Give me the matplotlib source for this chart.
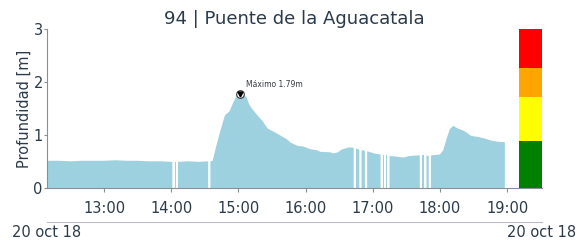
import numpy as np
import pandas as pd
import matplotlib
matplotlib.use("Agg")
import matplotlib.pyplot as plt
import matplotlib.dates as mdates

# ---------------- data ----------------
day = "2018-10-20"
times = ["12:09", "12:20", "12:30", "12:40", "12:50", "13:00", "13:10", "13:20", "13:30",
         "13:40", "13:50", "14:00", "14:01", "14:02", "14:03", "14:04", "14:05", "14:06",
         "14:15", "14:25", "14:33", "14:34", "14:35", "14:37", "14:40", "14:43", "14:48",
         "14:52", "14:55", "14:58", "15:01", "15:04", "15:07", "15:10", "15:13", "15:17",
         "15:22", "15:26", "15:34", "15:43", "15:47", "15:53", "15:58", "16:04", "16:10",
         "16:13", "16:22", "16:25", "16:29", "16:32", "16:38", "16:42", "16:43", "16:44",
         "16:45", "16:48", "16:49", "16:50", "16:53", "16:54", "16:55", "16:58", "17:03",
         "17:07", "17:08", "17:09", "17:10", "17:11", "17:12", "17:13", "17:14", "17:15",
         "17:21", "17:27", "17:33", "17:39", "17:42", "17:43", "17:44", "17:46", "17:47",
         "17:48", "17:50", "17:51", "17:52", "17:56", "18:00", "18:03", "18:06", "18:09",
         "18:12", "18:16", "18:22", "18:28", "18:34", "18:40", "18:46", "18:52", "18:58"]
depth = [0.52, 0.52, 0.51, 0.52, 0.52, 0.52, 0.53, 0.52, 0.52,
         0.51, 0.51, 0.50, 0.50, np.nan, 0.50, 0.50, np.nan, 0.50,
         0.51, 0.50, 0.51, np.nan, 0.51, 0.52, 0.78, 1.02, 1.38,
         1.45, 1.60, 1.73, 1.79, 1.76, 1.73, 1.57, 1.48, 1.38,
         1.26, 1.13, 1.04, 0.93, 0.86, 0.80, 0.79, 0.74, 0.72,
         0.69, 0.68, 0.66, 0.68, 0.73, 0.77, 0.77, 0.76, np.nan,
         0.75, 0.73, np.nan, 0.72, 0.71, np.nan, 0.70, 0.68, 0.65,
         0.64, np.nan, 0.63, 0.63, np.nan, 0.62, 0.62, np.nan, 0.61,
         0.60, 0.58, 0.61, 0.62, 0.62, np.nan, 0.62, 0.62, np.nan,
         0.62, 0.61, np.nan, 0.62, 0.63, 0.64, 0.72, 0.94, 1.12,
         1.18, 1.13, 1.08, 0.99, 0.97, 0.94, 0.90, 0.88, 0.87]

peak_time = "15:01"
peak_value = 1.79
peak_label = "Máximo 1.79m"

level_bounds = [0.0, 0.90, 1.72, 2.27, 3.0]
level_colors = ["#008000", "#FFFF00", "#FFA500", "#FF0000"]
level_bar_start = "19:11"
level_bar_end = "19:31"

x_start = "12:09"
hour_ticks = ["13:00", "14:00", "15:00", "16:00", "17:00", "18:00", "19:00"]
title = "94 | Puente de la Aguacatala"
ylabel = "Profundidad [m]"
date_label = "20 oct 18"

# ---------------- plot ----------------
def T(s):
    return pd.Timestamp(f"{day} {s}")

tx = mdates.date2num([T(s).to_pydatetime() for s in times])
y = np.array(depth, dtype=float)

text_c = "#2b3a4a"
spine_c = "#8a8f96"
fill_c = "#9dd1df"

fig = plt.figure(figsize=(5.87, 2.43), dpi=100)
ax = fig.add_axes([0.080, 0.225, 0.843, 0.654])

ax.fill_between(tx, 0, y, color=fill_c, linewidth=0, where=~np.isnan(y))

# level bar
b0 = mdates.date2num(T(level_bar_start).to_pydatetime())
b1 = mdates.date2num(T(level_bar_end).to_pydatetime())
for i, c in enumerate(level_colors):
    ax.bar(b0, level_bounds[i + 1] - level_bounds[i], bottom=level_bounds[i],
           width=b1 - b0, align="edge", color=c, linewidth=0)

# peak marker
px = mdates.date2num(T(peak_time).to_pydatetime())
ax.plot([px], [peak_value], marker="o", ms=5.5, mfc="white", mec="#333333", mew=0.8, zorder=5)
ax.plot([px], [peak_value], marker="v", ms=3.5, color="black", zorder=6)
ax.annotate(peak_label, (px, peak_value), xytext=(5, 3), textcoords="offset points",
            fontsize=5.5, color="#333a40", va="bottom", ha="left")

ax.set_xlim(mdates.date2num(T(x_start).to_pydatetime()), b1)
ax.set_ylim(0, 3)
ax.set_yticks([0, 1, 2, 3])
ax.set_xticks(mdates.date2num([T(s).to_pydatetime() for s in hour_ticks]))
ax.xaxis.set_major_formatter(mdates.DateFormatter("%H:%M"))

for s in ["top", "right"]:
    ax.spines[s].set_visible(False)
for s in ["left", "bottom"]:
    ax.spines[s].set_color(spine_c)
    ax.spines[s].set_linewidth(0.8)
ax.tick_params(axis="x", colors=spine_c, labelcolor=text_c, labelsize=10.5, length=3, pad=6)
ax.tick_params(axis="y", colors=spine_c, labelcolor=text_c, labelsize=10.5, length=2, pad=1)
ax.set_ylabel(ylabel, fontsize=10.5, color=text_c, labelpad=1)
ax.set_title(title, fontsize=13, color=text_c, pad=4)

# date axis below
ax2 = fig.add_axes([0.080, 0.086, 0.843, 0.001])
ax2.set_xlim(ax.get_xlim())
ax2.patch.set_visible(False)
for s in ["top", "right", "left"]:
    ax2.spines[s].set_visible(False)
ax2.spines["bottom"].set_color("#b8bcc0")
ax2.spines["bottom"].set_linewidth(0.8)
ax2.set_yticks([])
ax2.set_xticks(ax.get_xlim())
ax2.set_xticklabels([date_label, date_label])
ax2.tick_params(axis="x", length=0, pad=2, labelsize=10.5, labelcolor=text_c)

fig.savefig("out.png", dpi=100)
